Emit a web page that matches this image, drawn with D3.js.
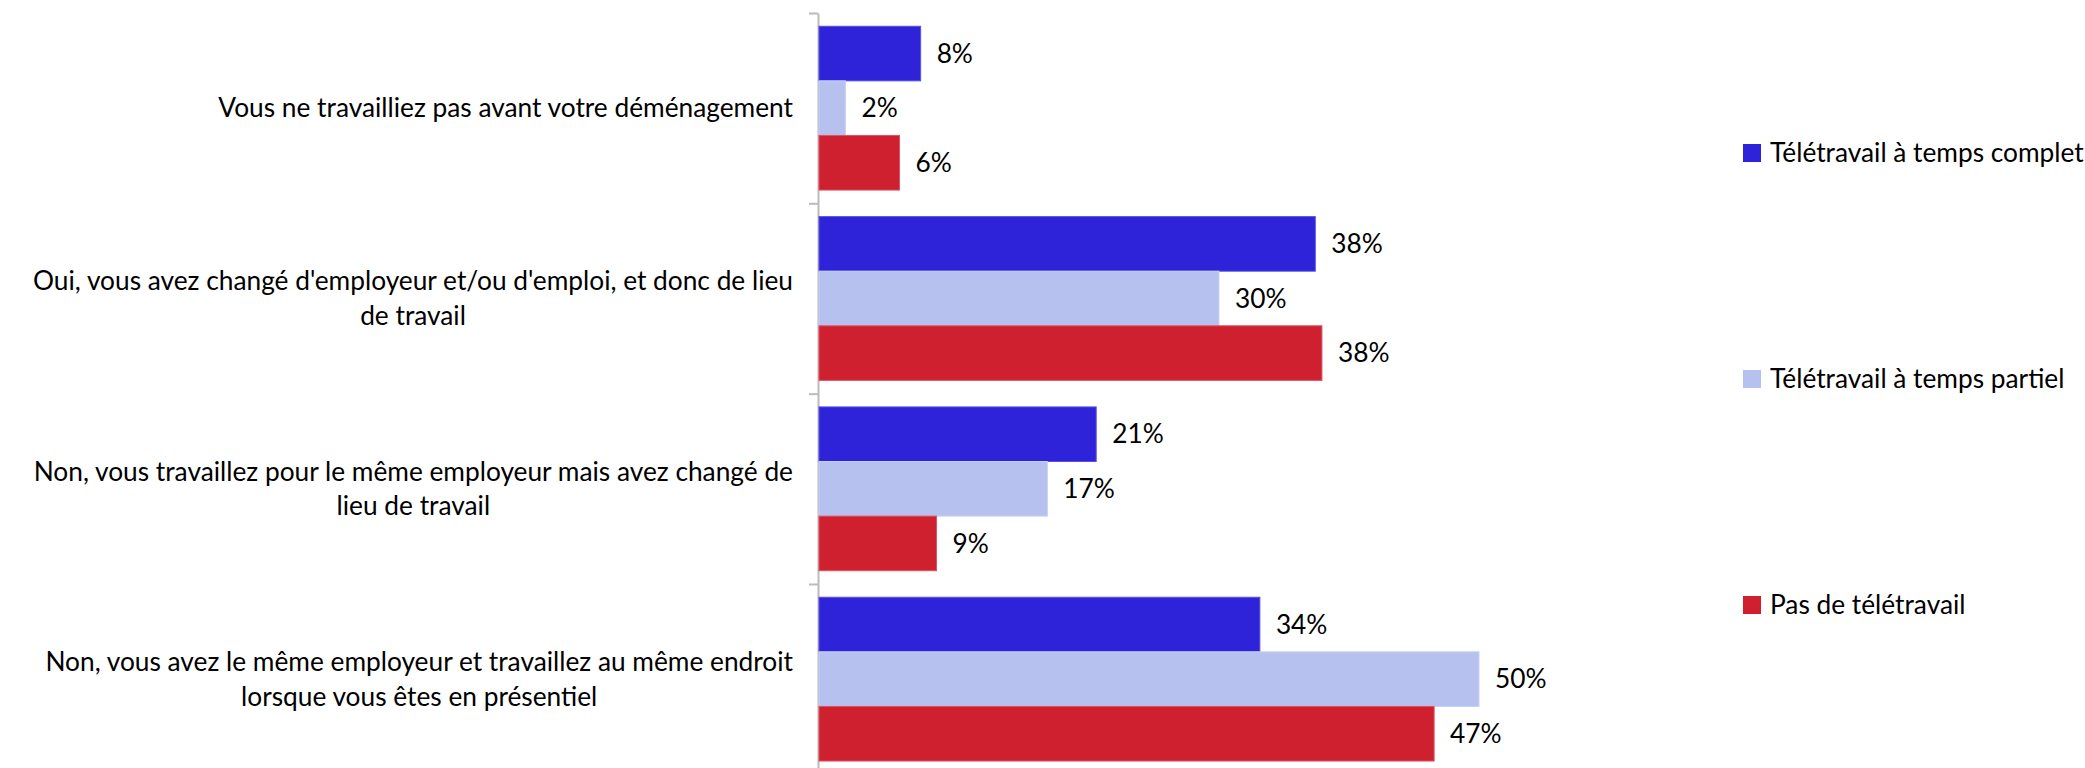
<!DOCTYPE html>
<html><head><meta charset="utf-8">
<script src="https://cdn.jsdelivr.net/npm/d3@7"></script>
<style>body{margin:0;background:#fff}svg{display:block}</style>
</head><body>
<svg id="chart" width="2085" height="768"></svg>
<script>
// ---- data ----
const categories = [
  "Vous ne travailliez pas avant votre déménagement",
  "Oui, vous avez changé d'employeur et/ou d'emploi, et donc de lieu de travail",
  "Non, vous travaillez pour le même employeur mais avez changé de lieu de travail",
  "Non, vous avez le même employeur et travaillez au même endroit lorsque vous êtes en présentiel"
];
const categoryLines = [
  ["Vous ne travailliez pas avant votre déménagement"],
  ["Oui, vous avez changé d'employeur et/ou d'emploi, et donc de lieu", "de travail"],
  ["Non, vous travaillez pour le même employeur mais avez changé de", "lieu de travail"],
  ["Non, vous avez le même employeur et travaillez au même endroit", "lorsque vous êtes en présentiel"]
];
const seriesNames = ["Télétravail à temps complet", "Télétravail à temps partiel", "Pas de télétravail"];
const seriesColors = ["#2E23D8", "#B6C1F0", "#CF2030"];
const seriesStrokes = ["#5A52E2", "#C8D0F4", "#DA5460"];
const fullTimeValues = [7.7, 37.6, 21.0, 33.4];
const partTimeValues = [2.0, 30.3, 17.3, 50.0];
const noRemoteValues = [6.1, 38.1, 8.9, 46.6];
const fullTimeLabels = ["8%", "38%", "21%", "34%"];
const partTimeLabels = ["2%", "30%", "17%", "50%"];
const noRemoteLabels = ["6%", "38%", "9%", "47%"];

const seriesValues = [fullTimeValues, partTimeValues, noRemoteValues];
const seriesLabels = [fullTimeLabels, partTimeLabels, noRemoteLabels];

const FONT = "Lato, 'Noto Sans', sans-serif";
const svg = d3.select("#chart");

// font size calibration from reference label width
const probe = svg.append("text").attr("font-family", FONT).attr("font-size", 100).text(categoryLines[0][0]);
const w100 = probe.node().getComputedTextLength();
probe.remove();
const FS = Math.min(30, 100 * 575 / w100);

const axisX = 818;
const x = d3.scaleLinear().domain([0, 50]).range([axisX + 1, axisX + 661]);
const y = d3.scaleBand().domain(categories).range([13, 774.3]).padding(0);
const ys = d3.scaleBand().domain(seriesNames).range([0, y.bandwidth()]).paddingInner(0).paddingOuter(0.243);
const yBound = d3.scaleLinear().domain([0, categories.length]).range([13, 774.3]);

// axis
const ax = svg.append("g").attr("transform", `translate(${axisX},0)`)
  .call(d3.axisLeft(yBound).tickValues(d3.range(categories.length + 1)).tickSize(9).tickSizeOuter(0).tickFormat(""));
ax.selectAll("path,line").attr("stroke", "#BBBBBB").attr("stroke-width", 2);

// bars
const rows = [];
categories.forEach((c, i) => seriesNames.forEach((s, j) => rows.push({c, s, j, v: seriesValues[j][i], lab: seriesLabels[j][i]})));

svg.append("g").selectAll("rect").data(rows).join("rect")
  .attr("x", x(0))
  .attr("y", d => y(d.c) + ys(d.s))
  .attr("width", d => x(d.v) - x(0))
  .attr("height", ys.bandwidth())
  .attr("fill", d => seriesColors[d.j])
  .attr("stroke", d => seriesStrokes[d.j])
  .attr("stroke-width", 1);

svg.append("g").selectAll("text").data(rows).join("text")
  .attr("x", d => x(d.v) + 16)
  .attr("y", d => y(d.c) + ys(d.s) + ys.bandwidth() / 2)
  .attr("dy", "0.35em")
  .attr("font-family", FONT).attr("font-size", FS).attr("fill", "#000")
  .text(d => d.lab);

// category labels
const labelRight = 793;
const lineH = 34.5;
categories.forEach((c, i) => {
  const lines = categoryLines[i];
  const g = svg.append("g");
  const t = g.append("text").attr("font-family", FONT).attr("font-size", FS).attr("text-anchor", "middle").attr("fill", "#000");
  const cy = y(c) + y.bandwidth() / 2;
  lines.forEach((ln, k) => {
    t.append("tspan").attr("x", 0).attr("y", cy + (k - (lines.length - 1) / 2) * lineH).attr("dy", "0.35em").text(ln);
  });
  let maxW = 0;
  t.selectAll("tspan").each(function(){ maxW = Math.max(maxW, this.getComputedTextLength()); });
  t.selectAll("tspan").attr("x", labelRight - maxW / 2);
});

// legend
const legendY = [153, 379, 605];
const lg = svg.append("g").selectAll("g").data(seriesNames).join("g")
  .attr("transform", (d, i) => `translate(1743,${legendY[i]})`);
lg.append("rect").attr("x", 0).attr("y", -9).attr("width", 18).attr("height", 18).attr("fill", (d, i) => seriesColors[i]);
lg.append("text").attr("x", 27).attr("y", 0).attr("dy", "0.35em")
  .attr("font-family", FONT).attr("font-size", FS).attr("fill", "#000").text(d => d);
</script>
</body></html>
